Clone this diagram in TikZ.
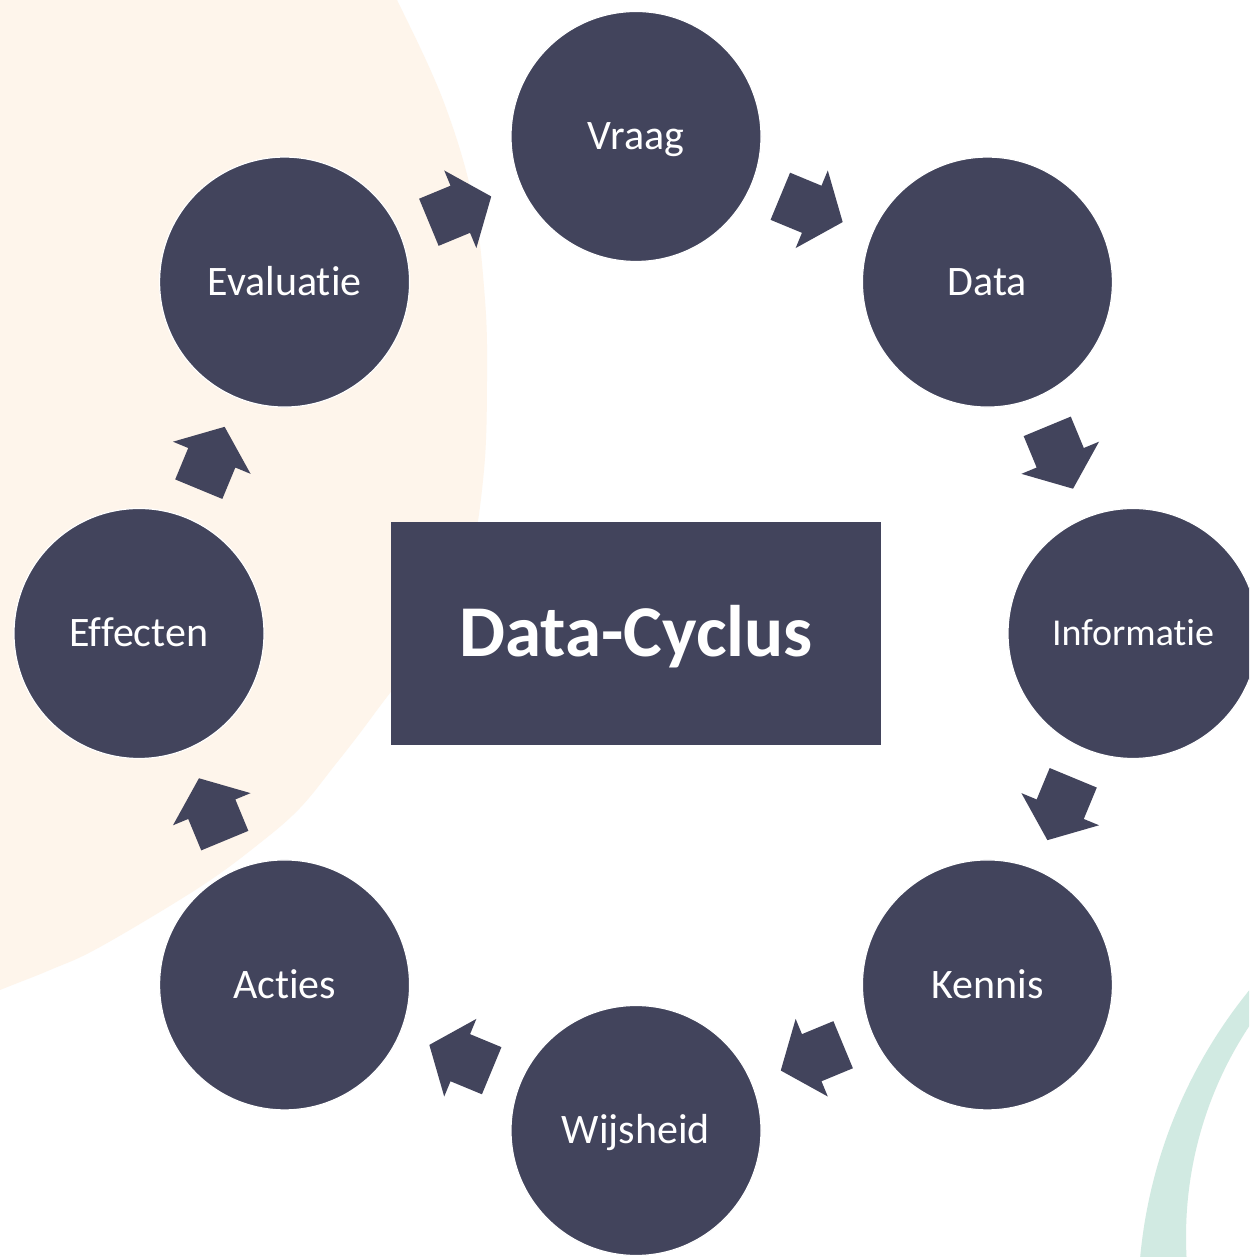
\documentclass[tikz,border=0pt]{standalone}
\usepackage{fontspec}
\setmainfont{Carlito}[Ligatures={NoCommon,NoContextual}]
\usetikzlibrary{calc}
\definecolor{navy}{RGB}{66,68,92}
\definecolor{peach}{RGB}{254,245,235}
\definecolor{mint}{RGB}{209,234,226}
\tikzset{
  stage/.style={circle, fill=navy, draw=white, line width=1.2pt, minimum size=250pt,
    inner sep=0pt, text=white, font=\fontsize{42}{50}\selectfont, text height=27pt, text depth=0pt},
  smallstage/.style={stage, font=\fontsize{38}{46}\selectfont, text height=24.5pt},
  titlebox/.style={rectangle, fill=navy, minimum width=490pt, minimum height=223pt, inner sep=0pt,
    text=white, font=\bfseries\fontsize{73}{80}\selectfont, text height=47pt, text depth=0pt},
  blockarrow/.style={fill=navy}
}
\begin{document}
\begin{tikzpicture}[x=1pt,y=1pt]
\useasboundingbox (0,0) rectangle (1249,1257);
\clip (0,0) rectangle (1249,1257);
\fill[white] (0,0) rectangle (1249,1257);
% peach background shape
\fill[peach] plot[smooth, tension=0.6] coordinates {(-60,1300) (380,1287) (397,1257) (443,1157) (473,1057) (485,957) (487,877) (484,787) (470,697) (440,627) (390,564) (360,524) (335,492) (300,449) (260,414) (200,370) (100,310) (50,287) (0,267) (-60,242)} -- cycle;
% mint arc
\fill[mint, even odd rule] (1636,-47) circle (498) (1569,20) circle (383);

\coordinate (C) at (636,623.5);
\node[stage] (vraag) at ($(C)+(90:497)$) {Vraag};
\node[stage] (data) at ($(C)+(45:497)$) {Data};
\node[smallstage] (info) at ($(C)+(0:497)$) {Informatie};
\node[stage] (kennis) at ($(C)+(-45:497)$) {Kennis};
\node[stage] (wijs) at ($(C)+(-90:497)$) {Wijsheid};
\node[stage] (acties) at ($(C)+(-135:497)$) {Acties};
\node[stage] (eff) at ($(C)+(180:497)$) {Effecten};
\node[stage] (eval) at ($(C)+(135:497)$) {Evaluatie};
\node[titlebox] (title) at (C) {Data-Cyclus};

\foreach \a/\b/\ang in {vraag/data/-22.5, data/info/-67.5, info/kennis/-112.5, kennis/wijs/-157.5,
  wijs/acties/-202.5, acties/eff/-247.5, eff/eval/-292.5, eval/vraag/-337.5} {
  \fill[blockarrow, shift={($(\a)!0.5!(\b)$)}, rotate=\ang]
    (-34,-25.5) -- (0,-25.5) -- (0,-42) -- (33.5,0) -- (0,42) -- (0,25.5) -- (-34,25.5) -- cycle;
}
\end{tikzpicture}
\end{document}
